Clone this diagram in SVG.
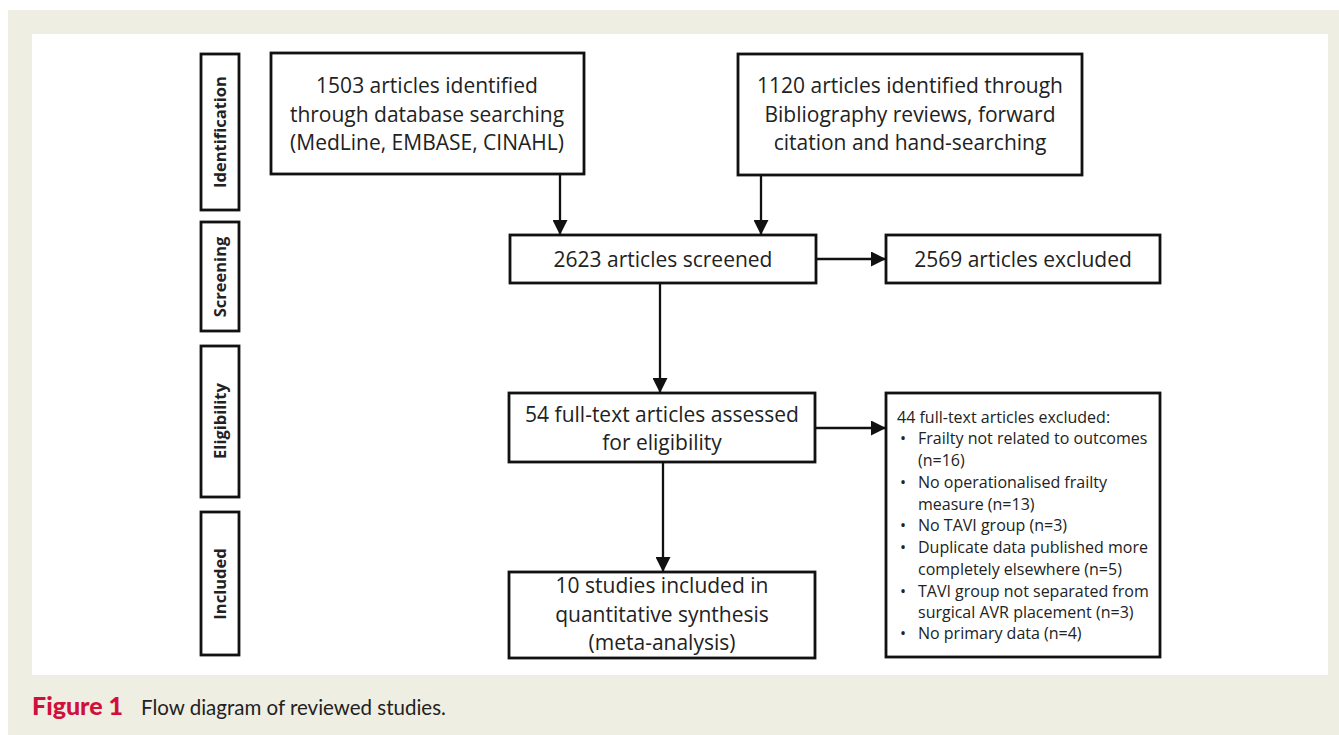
<svg xmlns="http://www.w3.org/2000/svg" width="1339" height="735" viewBox="0 0 1339 735">
<style>
.box{fill:#fff;stroke:#111;stroke-width:2.8}
.t{font-family:"Open Sans","Liberation Sans",sans-serif;font-size:21px;fill:#222;text-anchor:middle}
.s{font-family:"Open Sans","Liberation Sans",sans-serif;font-size:16px;fill:#222}
.lab{font-family:"Open Sans","Liberation Sans",sans-serif;font-size:16.5px;font-weight:bold;fill:#222;text-anchor:middle}
.c{stroke:#111;stroke-width:2.3;fill:none;marker-end:url(#ah)}
</style>
<defs>
<marker id="ah" markerWidth="15" markerHeight="15" refX="15" refY="7.5" orient="auto" markerUnits="userSpaceOnUse">
<path d="M0,0 L15,7.5 L0,15 Z" fill="#111"/>
</marker>
</defs>
<rect x="0" y="0" width="1339" height="735" fill="#fff"/>
<rect x="8" y="10" width="1331" height="725" fill="#efeee3"/>
<rect x="32" y="34" width="1296" height="641" fill="#fff"/>

<g id="stage-identification"><rect class="box" x="201" y="54" width="38" height="156"/><text class="lab" transform="translate(226,132) rotate(-90)">Identification</text></g>
<g id="stage-screening"><rect class="box" x="201" y="222" width="38" height="109"/><text class="lab" transform="translate(226,277) rotate(-90)">Screening</text></g>
<g id="stage-eligibility"><rect class="box" x="201" y="346" width="38" height="151"/><text class="lab" transform="translate(226,421) rotate(-90)">Eligibility</text></g>
<g id="stage-included"><rect class="box" x="201" y="512" width="38" height="143"/><text class="lab" transform="translate(226,584) rotate(-90)">Included</text></g>

<g id="db"><rect class="box" x="271" y="53" width="313" height="121"/>
<text class="t" x="427" y="93">1503 articles identified</text>
<text class="t" x="427" y="122">through database searching</text>
<text class="t" x="427" y="150">(MedLine, EMBASE, CINAHL)</text></g>

<g id="biblio"><rect class="box" x="738" y="54" width="344" height="121"/>
<text class="t" x="910" y="93">1120 articles identified through</text>
<text class="t" x="910" y="122">Bibliography reviews, forward</text>
<text class="t" x="910" y="150">citation and hand-searching</text></g>

<g id="screened"><rect class="box" x="510" y="235" width="306" height="48"/>
<text class="t" x="663" y="267">2623 articles screened</text></g>

<g id="excluded1"><rect class="box" x="886" y="235" width="274" height="48"/>
<text class="t" x="1023" y="267">2569 articles excluded</text></g>

<g id="fulltext"><rect class="box" x="509" y="393" width="306" height="69"/>
<text class="t" x="662" y="422">54 full-text articles assessed</text>
<text class="t" x="662" y="450">for eligibility</text></g>

<g id="excluded2"><rect class="box" x="886" y="393" width="274" height="264"/>
<text class="s" x="897" y="423">44 full-text articles excluded:</text>
<text class="s" x="900" y="444">•</text><text class="s" x="918" y="444">Frailty not related to outcomes</text>
<text class="s" x="918" y="466">(n=16)</text>
<text class="s" x="900" y="488">•</text><text class="s" x="918" y="488">No operationalised frailty</text>
<text class="s" x="918" y="510">measure (n=13)</text>
<text class="s" x="900" y="531">•</text><text class="s" x="918" y="531">No TAVI group (n=3)</text>
<text class="s" x="900" y="553">•</text><text class="s" x="918" y="553">Duplicate data published more</text>
<text class="s" x="918" y="575">completely elsewhere (n=5)</text>
<text class="s" x="900" y="597">•</text><text class="s" x="918" y="597">TAVI group not separated from</text>
<text class="s" x="918" y="618">surgical AVR placement (n=3)</text>
<text class="s" x="900" y="639">•</text><text class="s" x="918" y="639">No primary data (n=4)</text>
</g>

<g id="included"><rect class="box" x="509" y="572" width="306" height="86"/>
<text class="t" x="662" y="593">10 studies included in</text>
<text class="t" x="662" y="622">quantitative synthesis</text>
<text class="t" x="662" y="650">(meta-analysis)</text></g>

<g id="connectors">
<line class="c" x1="560" y1="174" x2="560" y2="235"/>
<line class="c" x1="761" y1="175" x2="761" y2="235"/>
<line class="c" x1="816" y1="259" x2="886" y2="259"/>
<line class="c" x1="660" y1="283" x2="660" y2="393"/>
<line class="c" x1="815" y1="428" x2="886" y2="428"/>
<line class="c" x1="663" y1="462" x2="663" y2="572"/>
</g>

<g id="caption">
<text x="32" y="715" font-family="Lato,'Open Sans',sans-serif" font-size="25" font-weight="900" fill="#d0103a">Figure 1</text>
<text x="141" y="715" font-family="Lato,'Open Sans',sans-serif" font-size="20.5" fill="#222">Flow diagram of reviewed studies.</text>
</g>
</svg>
